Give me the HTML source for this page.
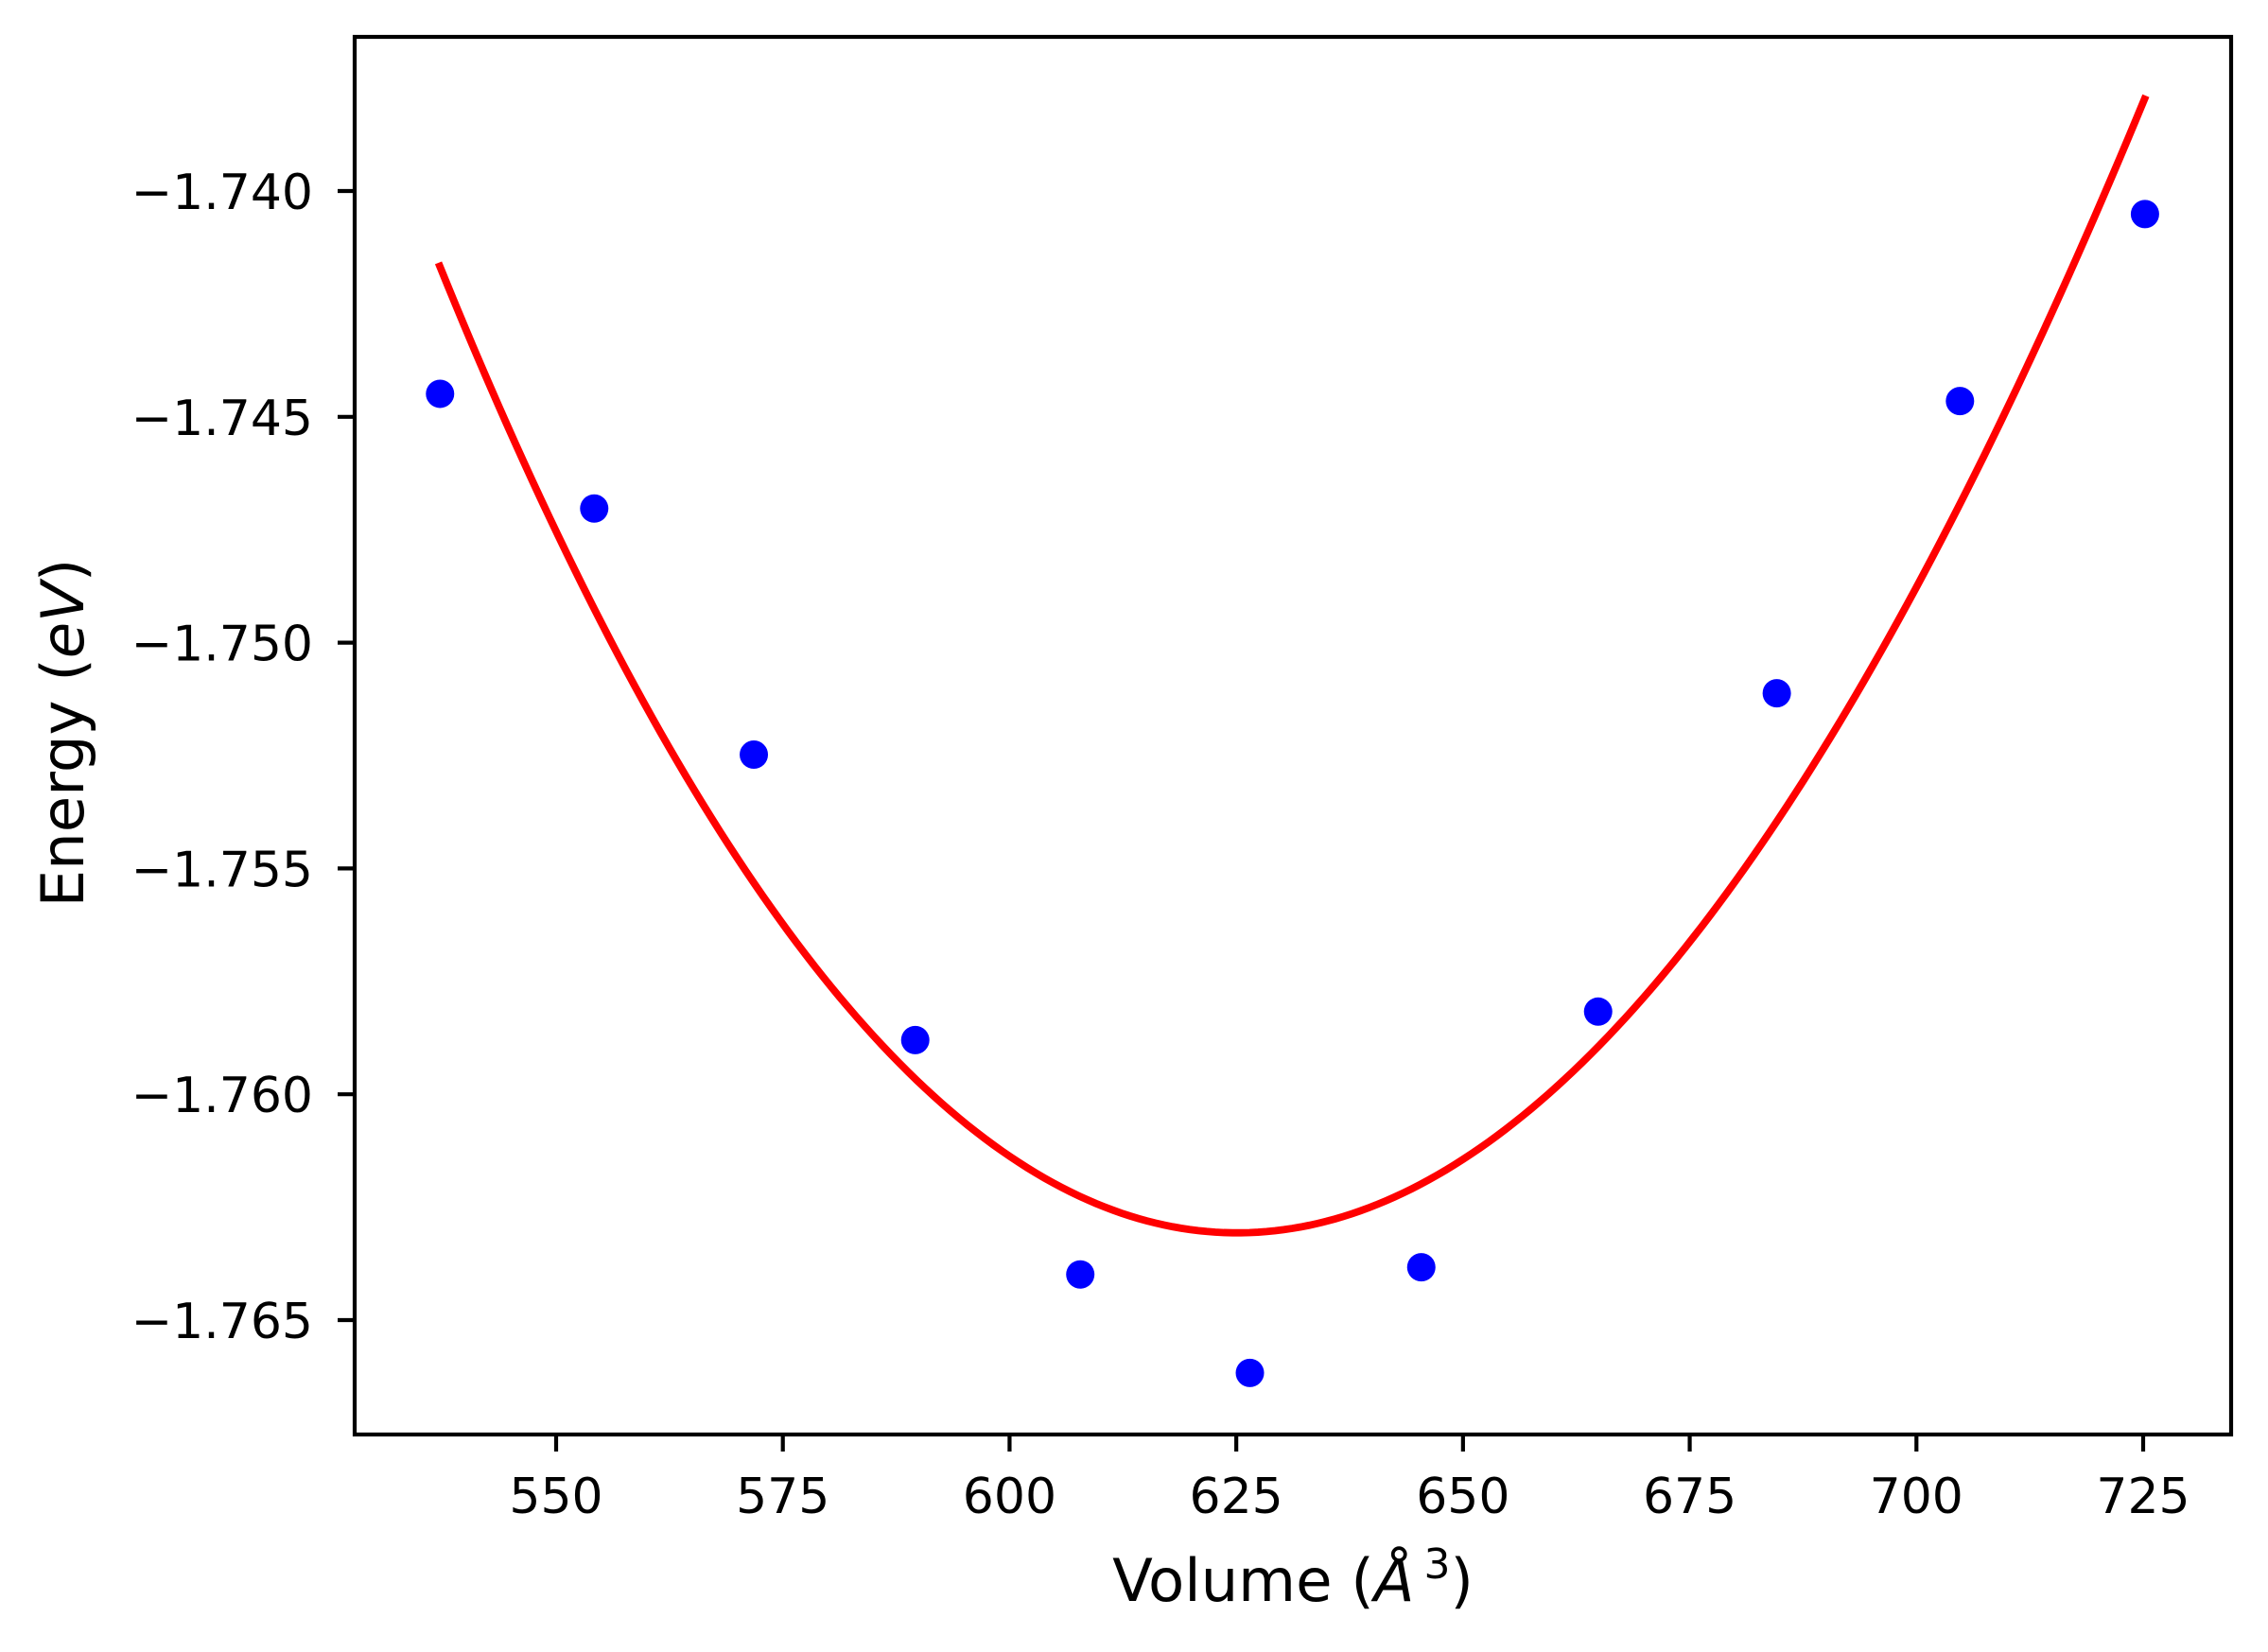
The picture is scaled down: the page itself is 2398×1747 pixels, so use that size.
<!DOCTYPE html>
<html><head><meta charset="utf-8"><style>
html,body{margin:0;padding:0;background:#fff;}
svg{display:block;font-family:"DejaVu Sans","Liberation Sans",sans-serif;}
</style></head><body>
<svg id="chart" width="2398" height="1747" viewBox="0 0 2398 1747" xmlns="http://www.w3.org/2000/svg">
<rect width="2398" height="1747" fill="#fff"/>
<g id="plot"></g>
<g id="axes"></g>
<text x="1367" y="1693" font-size="62.5" text-anchor="middle">Volume (<tspan font-style="italic">Å</tspan><tspan font-size="44" dx="10" dy="-24">3</tspan><tspan dy="24">)</tspan></text>
<text transform="translate(88,775) rotate(-90)" font-size="62.5" text-anchor="middle">Energy (<tspan font-style="italic">eV</tspan>)</text>
</svg>
<script>
const xTicks = [550, 575, 600, 625, 650, 675, 700, 725];
const yTicks = [-1.740, -1.745, -1.750, -1.755, -1.760, -1.765];
const yTickLabels = ["\u22121.740", "\u22121.745", "\u22121.750", "\u22121.755", "\u22121.760", "\u22121.765"];
const volumes = [537.2, 554.2, 571.8, 589.6, 607.8, 626.5, 645.4, 664.9, 684.6, 704.8, 725.2];
const energies = [-1.74449, -1.74703, -1.75248, -1.75880, -1.76399, -1.76617, -1.76383, -1.75817, -1.75112, -1.74465, -1.74051];
const fitVolumes = [537.02, 547.66, 559.62, 570.92, 580.89, 590.85, 600.82, 614.10, 624.74, 630.67, 643.94, 657.19, 670.46, 683.71, 696.98, 710.25, 725.30];
const fitEnergies = [-1.74168, -1.74641, -1.75119, -1.75519, -1.75781, -1.75997, -1.76151, -1.76266, -1.76300, -1.76287, -1.76217, -1.76050, -1.75782, -1.75414, -1.74979, -1.74478, -1.73788];

const L = 375, R = 2359, T = 39, B = 1517;
function xs(v){ return 588 + (v - 550) * (2266 - 588) / 175; }
function ys(v){ return 202 + (-1.740 - v) * (1396 - 202) / 0.025; }
const NS = "http://www.w3.org/2000/svg";
const plot = document.getElementById('plot');
const axes = document.getElementById('axes');
function mk(tag, attrs, parent){ const e = document.createElementNS(NS, tag); for (const k in attrs) e.setAttribute(k, attrs[k]); parent.appendChild(e); return e; }

// smooth least-squares quartic through the sampled fit points
function polyfit(xv, yv, deg){
  const n = deg + 1, x0 = (xv[0] + xv[xv.length-1]) / 2, sc = (xv[xv.length-1] - xv[0]) / 2;
  const A = Array.from({length:n}, ()=>new Array(n+1).fill(0));
  xv.forEach((x,i)=>{
    const t = (x - x0) / sc; const p = [];
    for (let k=0;k<n;k++) p.push(Math.pow(t,k));
    for (let r=0;r<n;r++){ for (let c=0;c<n;c++) A[r][c] += p[r]*p[c]; A[r][n] += p[r]*yv[i]; }
  });
  for (let i=0;i<n;i++){
    let m=i; for (let r=i+1;r<n;r++) if (Math.abs(A[r][i])>Math.abs(A[m][i])) m=r;
    [A[i],A[m]]=[A[m],A[i]];
    for (let r=0;r<n;r++){ if (r===i) continue; const f=A[r][i]/A[i][i]; for (let c=i;c<=n;c++) A[r][c]-=f*A[i][c]; }
  }
  const coef = A.map((row,i)=>row[n]/row[i]);
  return x => { const t=(x-x0)/sc; let s=0; for (let k=n-1;k>=0;k--) s=s*t+coef[k]; return s; };
}
const f = polyfit(fitVolumes, fitEnergies, 4);
const v0 = fitVolumes[0], v1 = fitVolumes[fitVolumes.length-1];
let d = '';
for (let i=0;i<=200;i++){
  const v = v0 + (v1 - v0) * i / 200;
  d += (i ? ' L' : 'M') + xs(v).toFixed(2) + ',' + ys(f(v)).toFixed(2);
}
const curve = mk('path', {d: d, fill:'none', stroke:'#ff0000', 'stroke-width':7.8}, plot);



volumes.forEach((v,i)=>{
  const c = mk('circle', {cx: xs(v), cy: ys(energies[i]), r: 15, fill:'#0000ff'}, plot);
  
  
});

const frame = mk('rect', {x:L, y:T, width:R-L, height:B-T, fill:'none', stroke:'#000', 'stroke-width':4.2}, axes);



xTicks.forEach(t=>{
  const x = xs(t);
  const tk = mk('line', {x1:x, x2:x, y1:B, y2:B+18, stroke:'#000', 'stroke-width':4.2}, axes);
  
  
  const lb = mk('text', {x:x, y:1600, 'font-size':52, 'text-anchor':'middle'}, axes);
  lb.textContent = String(t);
  
  
});
yTicks.forEach((t,i)=>{
  const y = ys(t);
  const tk = mk('line', {x1:L-18, x2:L, y1:y, y2:y, stroke:'#000', 'stroke-width':4.2}, axes);
  
  
  const lb = mk('text', {x:331, y:y+19, 'font-size':52, 'text-anchor':'end'}, axes);
  lb.textContent = yTickLabels[i];
  
  
});
</script>
</body></html>
